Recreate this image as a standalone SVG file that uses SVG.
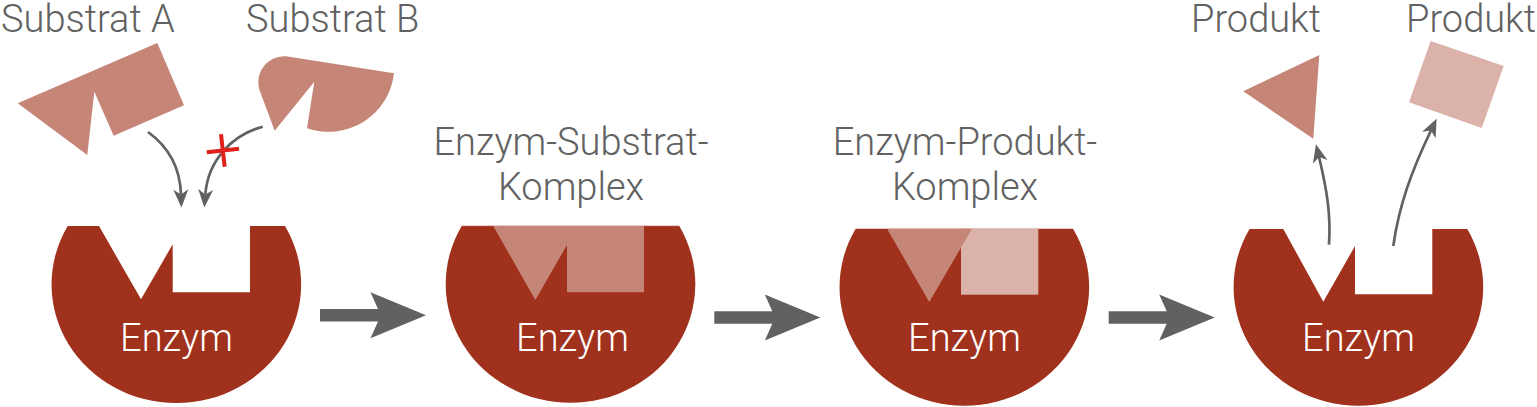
<svg xmlns="http://www.w3.org/2000/svg" xmlns:xlink="http://www.w3.org/1999/xlink" width="1537" height="407" viewBox="0 0 1537 407">
<style>
.lbl{font-family:Roboto,"Liberation Sans",sans-serif;font-weight:350;font-size:38px;fill:#616161}
.enz{font-family:Roboto,"Liberation Sans",sans-serif;font-weight:350;font-size:38px;fill:#fff;text-anchor:middle}
.e{fill:#a0311c}.m{fill:#c58577}.l{fill:#dbb2aa}
.c{fill:none;stroke:#616161;stroke-width:2.7;marker-end:url(#h)}
.x{fill:none;stroke:#e0201b;stroke-width:4}
</style>
<defs>
<marker id="h" markerUnits="userSpaceOnUse" markerWidth="20" markerHeight="18" refX="5" refY="9" orient="auto" viewBox="0 0 20 18"><path d="M0 1.5L18 9L0 16.5L5 9Z" fill="#616161"/></marker>
<path id="big" d="M0 -6.2H58L50.5 -23L106 0L50.5 23L58 6.2H0Z" fill="#616161"/>
</defs>
<rect width="1537" height="407" fill="#fff"/>
<g id="substrat-a"><path class="m" d="M17.7 103.3L157.3 43L184 105.3L113.7 135.7L94.3 91.7L87.3 155Z"/><text class="lbl" x="1" y="32">Substrat A</text></g>
<g id="substrat-b"><path class="m" d="M274.7 130.7L259.5 90A26 26 0 0 1 286 56.3L394 73.3A66 66 0 0 1 307 128.3L314.3 81.7Z"/><text class="lbl" x="246" y="32">Substrat B</text></g>
<g id="enzym-1"><path class="e" d="M67.7 226H99L141 299.3L172.7 244.3V292.3H250V226H285A124.8 118.7 0 1 1 67.7 226Z"/><text class="enz" x="176.5" y="351">Enzym</text></g>
<g id="enzym-substrat"><path class="e" d="M461.7 226H679.3A124.8 118.7 0 1 1 461.7 226Z"/><path class="m" d="M493.3 226H644V292.3H567V245L535.3 300Z"/><rect class="m" x="461.7" y="225.6" width="217.6" height="0.6"/><text class="enz" x="572.5" y="351">Enzym</text><text class="lbl" text-anchor="middle" x="571" y="155">Enzym-Substrat-</text><text class="lbl" text-anchor="middle" x="571" y="200">Komplex</text></g>
<g id="enzym-produkt"><path class="e" d="M855.7 228.7H1073A124.8 118.7 0 1 1 855.7 228.7Z"/><rect class="l" x="961" y="228.7" width="77.3" height="66"/><path class="m" d="M887 228.7H972L929.3 302Z"/><text class="enz" x="964.5" y="351">Enzym</text><text class="lbl" text-anchor="middle" x="965" y="155">Enzym-Produkt-</text><text class="lbl" text-anchor="middle" x="965" y="200">Komplex</text></g>
<g id="enzym-2"><path class="e" d="M1249.5 229H1283.3L1323.3 301.7L1355 246V294.3H1432.3V229H1467.3A124.8 118.7 0 1 1 1249.5 229Z"/><text class="enz" x="1358.5" y="351">Enzym</text></g>
<g id="produkt-1"><path class="m" d="M1243.3 91.3L1319.3 55L1313.3 138.7Z"/><text class="lbl" x="1191" y="32">Produkt</text></g>
<g id="produkt-2"><path class="l" d="M1430.7 41L1503.7 66L1481.7 128L1409 102.3Z"/><text class="lbl" x="1406" y="32">Produkt</text></g>
<g id="connectors">
<path class="c" d="M148 132C166 145 180 165 181 194.5"/>
<path class="c" d="M262.7 126.7C232 135 208 160 205.3 194.5"/>
<path class="x" d="M206.7 152.3L239 148.7M221 134.3L224.7 166.7"/>
<path class="c" d="M1329 244.7C1331 215 1327 190 1319 157"/>
<path class="c" d="M1393.3 246C1399 205 1412 170 1431 130.5"/>
<use xlink:href="#big" href="#big" x="320" y="315.3"/>
<use xlink:href="#big" href="#big" x="714.3" y="317.5"/>
<use xlink:href="#big" href="#big" x="1108.7" y="317.5"/>
</g>
</svg>
